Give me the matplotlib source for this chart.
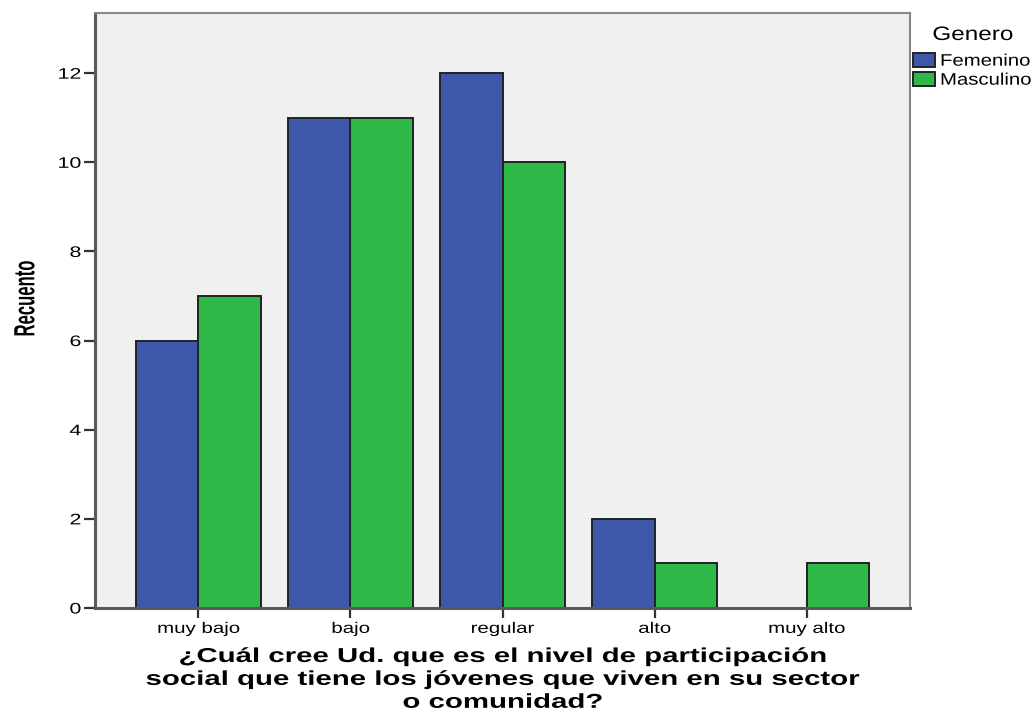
import numpy as np
import matplotlib
matplotlib.use("Agg")
import matplotlib.pyplot as plt
from matplotlib.patheffects import AbstractPathEffect
from matplotlib.transforms import Affine2D

categorias = ["muy bajo", "bajo", "regular", "alto", "muy alto"]
femenino = [6, 11, 12, 2, 0]
masculino = [7, 11, 10, 1, 1]
yticks = [0, 2, 4, 6, 8, 10, 12]


# the source picture has its text drawn wider than normal; widen glyphs in x
class StretchX(AbstractPathEffect):
    def __init__(self, sx, anchor="center"):
        super().__init__()
        self.sx = sx
        self.anchor = anchor

    def draw_path(self, renderer, gc, tpath, affine, rgbFace=None):
        v = affine.transform(tpath.vertices)
        if len(v) == 0:
            return
        if self.anchor == "left":
            cx = v[:, 0].min()
        elif self.anchor == "right":
            cx = v[:, 0].max()
        else:
            cx = (v[:, 0].min() + v[:, 0].max()) / 2
        tr = affine + Affine2D().translate(-cx, 0).scale(self.sx, 1).translate(cx, 0)
        renderer.draw_path(gc, tpath, tr, rgbFace)


plt.rcParams['font.family'] = ['Liberation Sans', 'DejaVu Sans']

fig = plt.figure(figsize=(10.36, 7.15), dpi=100)
ax = fig.add_axes([95/1036, 1 - 608/715, (910-95)/1036, (608-13)/715])
ax.set_facecolor("#f0f0f0")

x = np.arange(len(categorias))
w = 0.41
ax.bar(x - w/2, femenino, w, color="#3e58ac", edgecolor="#222222", linewidth=1.4, label="Femenino")
ax.bar(x + w/2, masculino, w, color="#2eb848", edgecolor="#222222", linewidth=1.4, label="Masculino")

ax.set_xlim(-0.68, 4.68)
ax.set_ylim(0, 13.35)
ax.set_yticks(yticks)
ax.set_yticklabels([str(v) for v in yticks], fontsize=11)
ax.set_xticks(x)
ax.set_xticklabels(categorias, fontsize=11)
ax.tick_params(axis="y", length=8, width=1.6, color="#333333", pad=2)
ax.tick_params(axis="x", length=7, width=1.6, color="#333333", pad=3)
for t in ax.get_xticklabels():
    t.set_path_effects([StretchX(1.34)])
for t in ax.get_yticklabels():
    t.set_path_effects([StretchX(1.4, "right")])

for s in ["left", "bottom"]:
    ax.spines[s].set_color("#5a5a5a")
    ax.spines[s].set_linewidth(2.2)
for s in ["top", "right"]:
    ax.spines[s].set_color("#888888")
    ax.spines[s].set_linewidth(1.5)

yl = ax.set_ylabel("Recuento", fontsize=12, fontweight="bold")
ax.yaxis.set_label_coords(-0.076, 0.52)
yl.set_path_effects([StretchX(1.75)])

xl = ax.set_xlabel("¿Cuál cree Ud. que es el nivel de participación\n"
                   "social que tiene los jóvenes que viven en su sector\n"
                   "o comunidad?", fontsize=14.5, fontweight="bold",
                   linespacing=1.26, labelpad=8)
xl.set_path_effects([StretchX(1.46)])

leg = ax.legend(loc="upper left", fontsize=12, frameon=False,
                handlelength=1.32, handleheight=0.9, handletextpad=0.3,
                labelspacing=0.2, borderaxespad=0, borderpad=0)
leg.set_bbox_to_anchor((913 / 1036, (715 - 53) / 715), transform=fig.transFigure)
for t in leg.get_texts():
    t.set_path_effects([StretchX(1.22, "left")])
for h in leg.legend_handles:
    h.set_linewidth(1.4)

titulo = fig.text(973 / 1036, 1 - 40 / 715, "Genero", fontsize=14, ha="center", va="baseline")
titulo.set_path_effects([StretchX(1.25)])

fig.savefig("out.png", dpi=100)
